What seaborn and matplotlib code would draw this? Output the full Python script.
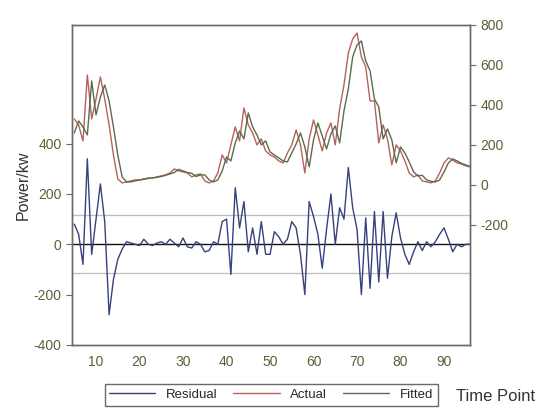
import matplotlib
matplotlib.use("Agg")
import matplotlib.pyplot as plt
import pandas as pd
import seaborn as sns

# time points 5..96
time_points = list(range(5, 97))

actual = [
    330, 300, 220, 550, 330, 430, 540, 430, 300, 150,
    30, 10, 15, 20, 25, 25, 30, 35, 35, 40,
    45, 50, 60, 80, 70, 65, 60, 40, 50, 55,
    20, 10, 20, 60, 150, 110, 200, 290, 220, 385,
    300, 260, 200, 230, 170, 150, 140, 120, 110, 160,
    200, 275, 200, 60, 230, 325, 250, 170, 260, 310,
    200, 380, 500, 660, 730, 760, 640, 590, 420, 420,
    210, 300, 230, 100, 200, 170, 120, 60, 40, 50,
    20, 15, 10, 20, 60, 110, 135, 125, 110, 105,
    95, 90,
]

fitted = [
    260, 320, 290, 250, 520, 350, 440, 500, 420, 290,
    150, 40, 15, 15, 20, 25, 28, 32, 35, 38,
    42, 48, 55, 62, 78, 70, 62, 58, 42, 50,
    50, 25, 15, 25, 70, 140, 120, 210, 270, 230,
    360, 290, 250, 200, 220, 165, 150, 135, 120, 115,
    160, 205, 260, 190, 90, 225, 310, 245, 180, 255,
    295, 210, 370, 480, 640, 700, 720, 620, 570, 430,
    390, 230, 280, 225, 110, 190, 160, 115, 65, 45,
    48, 25, 18, 15, 25, 65, 110, 130, 120, 108,
    100, 92,
]

residual = [
    80, 40, -80, 340, -40, 100, 240, 90, -280, -140,
    -60, -20, 10, 5, 0, -5, 20, 0, -5, 5,
    10, 0, 20, 5, -10, 25, -10, -15, 10, 0,
    -30, -25, 10, 0, 90, 100, -120, 225, 65, 170,
    -30, 65, -40, 90, -40, -40, 50, 30, 0, 20,
    90, 65, -40, -200, 170, 110, 40, -95, 60, 200,
    0, 145, 100, 305, 145, 60, -200, 105, -175, 130,
    -150, 130, -135, 30, 125, 25, -40, -80, -30, 10,
    -25, 10, -10, 10, 40, 65, 20, -30, 0, -10,
    0, 0,
]

# +/- one standard error band of the residual
sd_band = 116

left_ticks = [-400, -200, 0, 200, 400]
right_ticks = [-200, 0, 200, 400, 600, 800]
x_ticks = [10, 20, 30, 40, 50, 60, 70, 80, 90]

df = pd.DataFrame({"t": time_points, "Actual": actual, "Fitted": fitted, "Residual": residual})

sns.set_style("white")
plt.rcParams["font.family"] = ["Liberation Sans", "DejaVu Sans"]
plt.rcParams["axes.unicode_minus"] = False

tick_color = "#5e5e3a"
res_color = "#36417e"
act_color = "#b5625a"
fit_color = "#5b6b4e"

fig = plt.figure(figsize=(5.59, 4.16), dpi=100)
ax = fig.add_axes([0.129, 0.171, 0.712, 0.769])
ax2 = ax.twinx()

# residual on left axis
ax.axhline(sd_band, color="#bdbdbd", lw=0.9, zorder=1)
ax.axhline(-sd_band, color="#bdbdbd", lw=0.9, zorder=1)
ax.axhline(0, color="#111111", lw=1.0, zorder=1)
sns.lineplot(data=df, x="t", y="Residual", ax=ax, color=res_color, lw=1.0, legend=False)

sns.lineplot(data=df, x="t", y="Actual", ax=ax2, color=act_color, lw=1.0, legend=False)
sns.lineplot(data=df, x="t", y="Fitted", ax=ax2, color=fit_color, lw=1.0, legend=False)

ax.set_xlim(4.5, 96)
ax.set_ylim(-400, 872)
ax.set_yticks(left_ticks)
ax.set_xticks(x_ticks)
ax2.set_ylim(-800, 800)
ax2.set_yticks(right_ticks)

ax.set_xlabel("")
ax.set_ylabel("Power/kw", fontsize=11.5, color="#333333", labelpad=2)
ax2.set_ylabel("")

for a in (ax, ax2):
    for s in a.spines.values():
        s.set_color("#6a6a6a")
        s.set_linewidth(1.0)
    a.tick_params(colors=tick_color, labelsize=10, length=4, direction="out")
    for lab in a.get_xticklabels() + a.get_yticklabels():
        lab.set_color(tick_color)
ax.tick_params(axis="both", color="#6a6a6a")
ax2.tick_params(axis="y", color="#6a6a6a")

fig.text(0.815, 0.028, "Time Point", fontsize=12, color="#333333", ha="left", va="bottom")

handles = [
    plt.Line2D([], [], color=res_color, lw=1.0),
    plt.Line2D([], [], color=act_color, lw=1.0),
    plt.Line2D([], [], color=fit_color, lw=1.0),
]
fig.legend(handles, ["Residual", "Actual", "Fitted"], loc="center", ncol=3,
           bbox_to_anchor=(0.485, 0.051), frameon=True, fancybox=False, edgecolor="#444444",
           fontsize=9.5, handlelength=3.5, columnspacing=1.2, borderpad=0.35)

fig.savefig("out.png", dpi=100)
